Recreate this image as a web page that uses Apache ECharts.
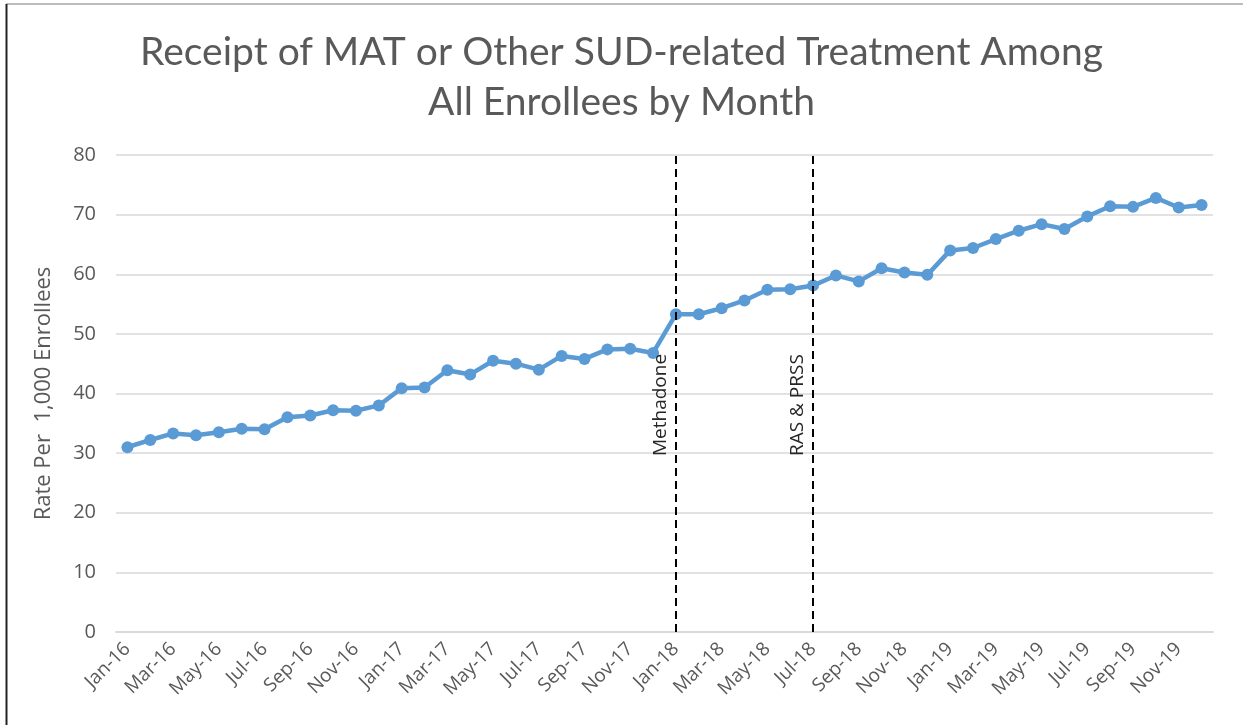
<!DOCTYPE html>
<html>
<head>
<meta charset="utf-8">
<script src="https://cdn.jsdelivr.net/npm/echarts@6/dist/echarts.min.js"></script>
<style>
  html, body { margin: 0; padding: 0; background: #fff; }
  #chart { width: 1243px; height: 725px; }
</style>
</head>
<body>
<div id="chart"></div>
<script>
const MONTHS = ['Jan', 'Feb', 'Mar', 'Apr', 'May', 'Jun', 'Jul', 'Aug', 'Sep', 'Oct', 'Nov', 'Dec']
const YEARS = ['16', '17', '18', '19']
const categories = YEARS.flatMap(y => MONTHS.map(m => `${m}-${y}`))

// rate per 1,000 enrollees, Jan-16 .. Dec-19
const rates = [
  31.0, 32.2, 33.3, 33.0, 33.5, 34.1, 34.0, 36.0, 36.3, 37.2, 37.1, 38.0,
  40.9, 41.0, 43.9, 43.2, 45.5, 45.0, 44.0, 46.3, 45.8, 47.4, 47.5, 46.8,
  53.3, 53.3, 54.3, 55.6, 57.4, 57.5, 58.1, 59.8, 58.8, 61.0, 60.3, 59.9,
  64.0, 64.4, 65.9, 67.3, 68.4, 67.6, 69.7, 71.4, 71.3, 72.8, 71.2, 71.6
]

const events = [
  { month: 'Jan-18', label: 'Methadone' },
  { month: 'Jul-18', label: 'RAS & PRSS' }
]

const TITLE_FONT = 'Lato'
const FONT = 'Open Sans'
const GREY = '#595959'

const chart = echarts.init(document.getElementById('chart'))

chart.setOption({
  animation: false,
  textStyle: { fontFamily: FONT },
  title: {
    text: 'Receipt of MAT or Other SUD-related Treatment Among\nAll Enrollees by Month',
    left: 'center',
    top: 22,
    textStyle: { fontSize: 39, fontWeight: 'normal', color: GREY, lineHeight: 50, fontFamily: TITLE_FONT }
  },
  grid: { left: 116, right: 30, top: 155, bottom: 93 },
  xAxis: {
    type: 'category',
    data: categories,
    boundaryGap: true,
    axisLine: { lineStyle: { color: '#d9d9d9', width: 2 } },
    axisTick: { show: false },
    axisLabel: { interval: 1, rotate: 45, color: GREY, fontSize: 19, margin: 14 }
  },
  yAxis: {
    type: 'value',
    min: 0,
    max: 80,
    interval: 10,
    name: 'Rate Per  1,000 Enrollees',
    nameLocation: 'center',
    nameGap: 61,
    nameTextStyle: { color: GREY, fontSize: 22 },
    axisLine: { show: false },
    axisTick: { show: false },
    axisLabel: { color: GREY, fontSize: 20, margin: 20 },
    splitLine: { lineStyle: { color: '#d9d9d9', width: 1.5 } }
  },
  series: [{
    type: 'line',
    data: rates,
    symbol: 'circle',
    symbolSize: 12,
    lineStyle: { color: '#5b9bd5', width: 4.5 },
    itemStyle: { color: '#5b9bd5' },
    markLine: {
      silent: true,
      symbol: 'none',
      lineStyle: { color: '#000', type: [8, 5], width: 2 },
      label: {
        show: true,
        position: 'insideStartTop',
        color: '#262626',
        fontSize: 19,
        padding: [0, 0, 0, 170],
        distance: 6
      },
      data: events.map(e => ({ xAxis: e.month, label: { formatter: e.label } }))
    }
  }],
  graphic: [
    { type: 'line', shape: { x1: 6, y1: 4, x2: 1243, y2: 4 }, style: { stroke: '#a6a6a6', lineWidth: 1.5 } },
    { type: 'line', shape: { x1: 6.5, y1: 4, x2: 6.5, y2: 725 }, style: { stroke: '#222', lineWidth: 2 } }
  ]
})
</script>
</body>
</html>
